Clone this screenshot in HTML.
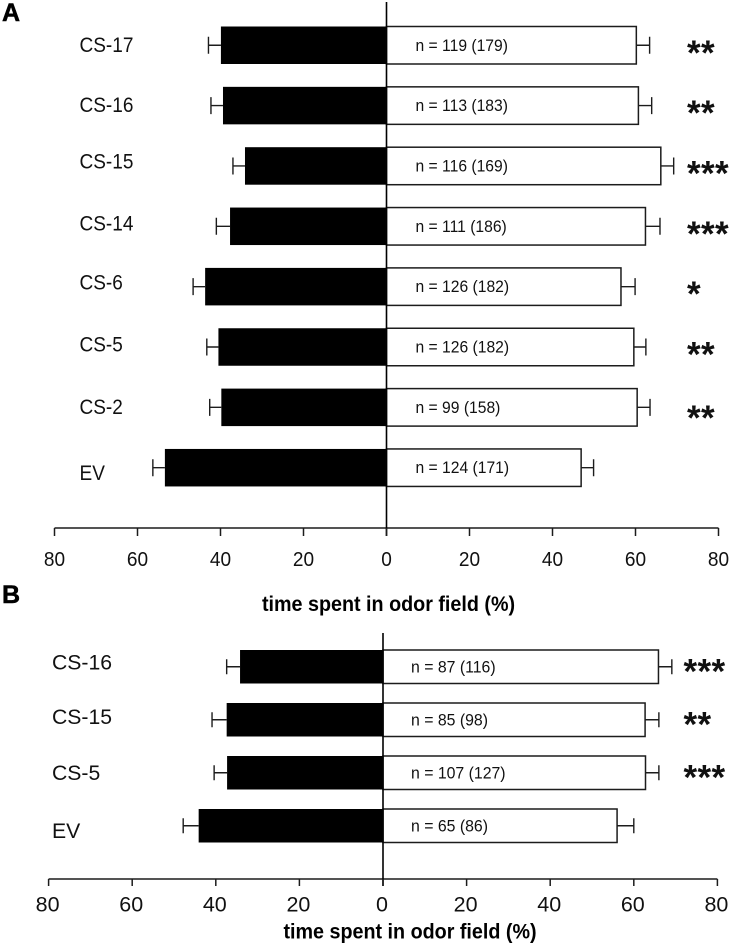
<!DOCTYPE html>
<html lang="en">
<head>
<meta charset="utf-8">
<title>Time spent in odor field</title>
<style>
  html, body { margin: 0; padding: 0; background: #fff; }
  svg { display: block; font-family: "Liberation Sans", sans-serif; }
</style>
</head>
<body>
<svg id="chart" xmlns="http://www.w3.org/2000/svg" width="739" height="947" viewBox="0 0 739 947"></svg>
<script>
const tickLabels = [80, 60, 40, 20, 0, 20, 40, 60, 80];
const tickValues = [-80, -60, -40, -20, 0, 20, 40, 60, 80];

const categoriesA = ['CS-17', 'CS-16', 'CS-15', 'CS-14', 'CS-6', 'CS-5', 'CS-2', 'EV'];
const controlMeansA = [39.9, 39.4, 34.1, 37.7, 43.7, 40.5, 39.8, 53.4];
const controlErrorsA = [3.0, 2.9, 2.9, 3.3, 2.9, 2.8, 2.8, 2.9];
const odorMeansA = [60.2, 60.7, 66.1, 62.4, 56.5, 59.6, 60.4, 46.9];
const odorErrorsA = [3.2, 3.2, 3.1, 3.5, 3.4, 2.9, 3.1, 3.0];
const sampleLabelsA = ['n = 119 (179)', 'n = 113 (183)', 'n = 116 (169)', 'n = 111 (186)', 'n = 126 (182)', 'n = 126 (182)', 'n = 99 (158)', 'n = 124 (171)'];
const significanceA = ['**', '**', '***', '***', '*', '**', '**', ''];

const categoriesB = ['CS-16', 'CS-15', 'CS-5', 'EV'];
const controlMeansB = [34.2, 37.4, 37.3, 44.1];
const controlErrorsB = [3.2, 3.5, 3.1, 3.7];
const odorMeansB = [65.9, 62.7, 62.8, 56.0];
const odorErrorsB = [3.2, 3.3, 3.2, 4.0];
const sampleLabelsB = ['n = 87 (116)', 'n = 85 (98)', 'n = 107 (127)', 'n = 65 (86)'];
const significanceB = ['***', '**', '***', ''];

const labelNudgeA = { 'CS-17': -1, 'CS-16': -1.5, 'CS-15': -5, 'CS-14': -3.5, 'CS-6': -5, 'CS-5': -3, 'CS-2': -1, 'EV': 4.5 };
const labelNudgeB = { 'CS-16': -5, 'CS-15': -3.5, 'CS-5': -0.5, 'EV': 4.5 };
const starNudgeA = { 'CS-2': 3 };
const starNudgeB = {};

const NS = 'http://www.w3.org/2000/svg';
const root = document.getElementById('chart');
const INK = '#1c1c1c';

function make(tag, parent, props, text) {
  const el = document.createElementNS(NS, tag);
  for (const key in props) el.setAttribute(key, props[key]);
  if (text !== undefined) el.textContent = text;
  parent.appendChild(el);
  return el;
}

function place(x, y, sx) {
  return 'translate(' + x + ' ' + y + ') scale(' + sx + ' 1)';
}

function drawPanel(p) {
  const g = make('g', root, {});
  
  

  const xScale = v => p.zeroX + v * p.unit;
  const rowTop = i => p.firstTop + i * p.step;
  const rowMid = i => rowTop(i) + p.barH / 2;

  p.categories.forEach((cat, i) => {
    const label = make('text', g, { transform: place(p.labelX, rowMid(i) + p.labelNudge[cat] + p.labelSize * 0.36, p.labelScale), 'font-size': p.labelSize, fill: '#111' }, cat);
    
    

    const leftX = xScale(-p.control[i]);
    const leftBar = make('rect', g, { x: leftX, y: rowTop(i), width: p.zeroX - leftX, height: p.barH, fill: '#000' });
    
    

    const leftTip = xScale(-(p.control[i] + p.controlErr[i]));
    const leftWhisker = make('path', g, { d: 'M' + leftX + ' ' + rowMid(i) + 'H' + leftTip + 'M' + leftTip + ' ' + (rowMid(i) - p.cap) + 'V' + (rowMid(i) + p.cap), stroke: INK, 'stroke-width': 1.4, fill: 'none' });
    
    

    const rightX = xScale(p.odor[i]);
    const rightBar = make('rect', g, { x: p.zeroX, y: rowTop(i), width: rightX - p.zeroX, height: p.barH, fill: '#fff', stroke: INK, 'stroke-width': 1.5 });
    
    

    const rightTip = xScale(p.odor[i] + p.odorErr[i]);
    const rightWhisker = make('path', g, { d: 'M' + rightX + ' ' + rowMid(i) + 'H' + rightTip + 'M' + rightTip + ' ' + (rowMid(i) - p.cap) + 'V' + (rowMid(i) + p.cap), stroke: INK, 'stroke-width': 1.4, fill: 'none' });
    
    

    const nText = make('text', g, { transform: place(p.nX, rowMid(i) + 5.5, p.nScale), 'font-size': p.nSize, fill: '#111' }, p.samples[i]);
    
    

    if (p.stars[i]) {
      const star = make('text', g, { x: p.starX, y: rowMid(i) + p.starDy + (p.starNudge[cat] || 0), 'font-size': 35, 'font-weight': 700, 'letter-spacing': 0.4, fill: '#111' }, p.stars[i]);
      
      
    }
  });

  const axis = make('line', g, { x1: xScale(-80), x2: xScale(80), y1: p.axisY, y2: p.axisY, stroke: INK, 'stroke-width': 1.5 });
  
  

  const zeroLine = make('line', g, { x1: p.zeroX, x2: p.zeroX, y1: p.spineTop, y2: p.axisY + p.tickLen, stroke: '#000', 'stroke-width': 1.6 });
  
  

  tickValues.forEach((v, i) => {
    const tick = make('line', g, { x1: xScale(v), x2: xScale(v), y1: p.axisY, y2: p.axisY + p.tickLen, stroke: INK, 'stroke-width': 1.5 });
    
    

    const tickText = make('text', g, { transform: place(xScale(v) + p.tickDx, p.tickTextY, p.tickScale), 'font-size': p.tickSize, 'text-anchor': 'middle', fill: '#111' }, tickLabels[i]);
    
    
  });

  const title = make('text', g, { transform: place(p.titleX, p.titleY, 0.94), 'font-size': 21, 'font-weight': 700, 'text-anchor': 'middle', fill: '#000' }, 'time spent in odor field (%)');
  
  

  const letter = make('text', g, { x: 2, y: p.letterY, 'font-size': 25, 'font-weight': 700, fill: '#000', stroke: '#000', 'stroke-width': 0.5 }, p.letter);
  
  
}

drawPanel({
  id: 'a', letter: 'A', letterY: 21,
  categories: categoriesA, control: controlMeansA, controlErr: controlErrorsA,
  odor: odorMeansA, odorErr: odorErrorsA, samples: sampleLabelsA, stars: significanceA,
  labelNudge: labelNudgeA, starNudge: starNudgeA,
  zeroX: 386.5, unit: 4.15, firstTop: 26.5, step: 60.35, barH: 37.5, cap: 8.5,
  labelX: 79.5, labelSize: 21.5, labelScale: 0.885, nX: 415.5, nSize: 16.5, nScale: 0.95, starX: 687, starDy: 19.5,
  axisY: 528, tickLen: 8, spineTop: 2, tickTextY: 566, tickSize: 20.5, tickScale: 0.93, tickDx: 0,
  titleX: 388.5, titleY: 611
});

drawPanel({
  id: 'b', letter: 'B', letterY: 603,
  categories: categoriesB, control: controlMeansB, controlErr: controlErrorsB,
  odor: odorMeansB, odorErr: odorErrorsB, samples: sampleLabelsB, stars: significanceB,
  labelNudge: labelNudgeB, starNudge: starNudgeB,
  zeroX: 383, unit: 4.18, firstTop: 650, step: 53, barH: 33.5, cap: 7.5,
  labelX: 52, labelSize: 21.2, labelScale: 1, nX: 411, nSize: 16.5, nScale: 0.96, starX: 683.5, starDy: 16.5,
  axisY: 879, tickLen: 7, spineTop: 633, tickTextY: 911.5, tickSize: 21.5, tickScale: 1, tickDx: -1,
  titleX: 410, titleY: 938.5
});
</script>
</body>
</html>
